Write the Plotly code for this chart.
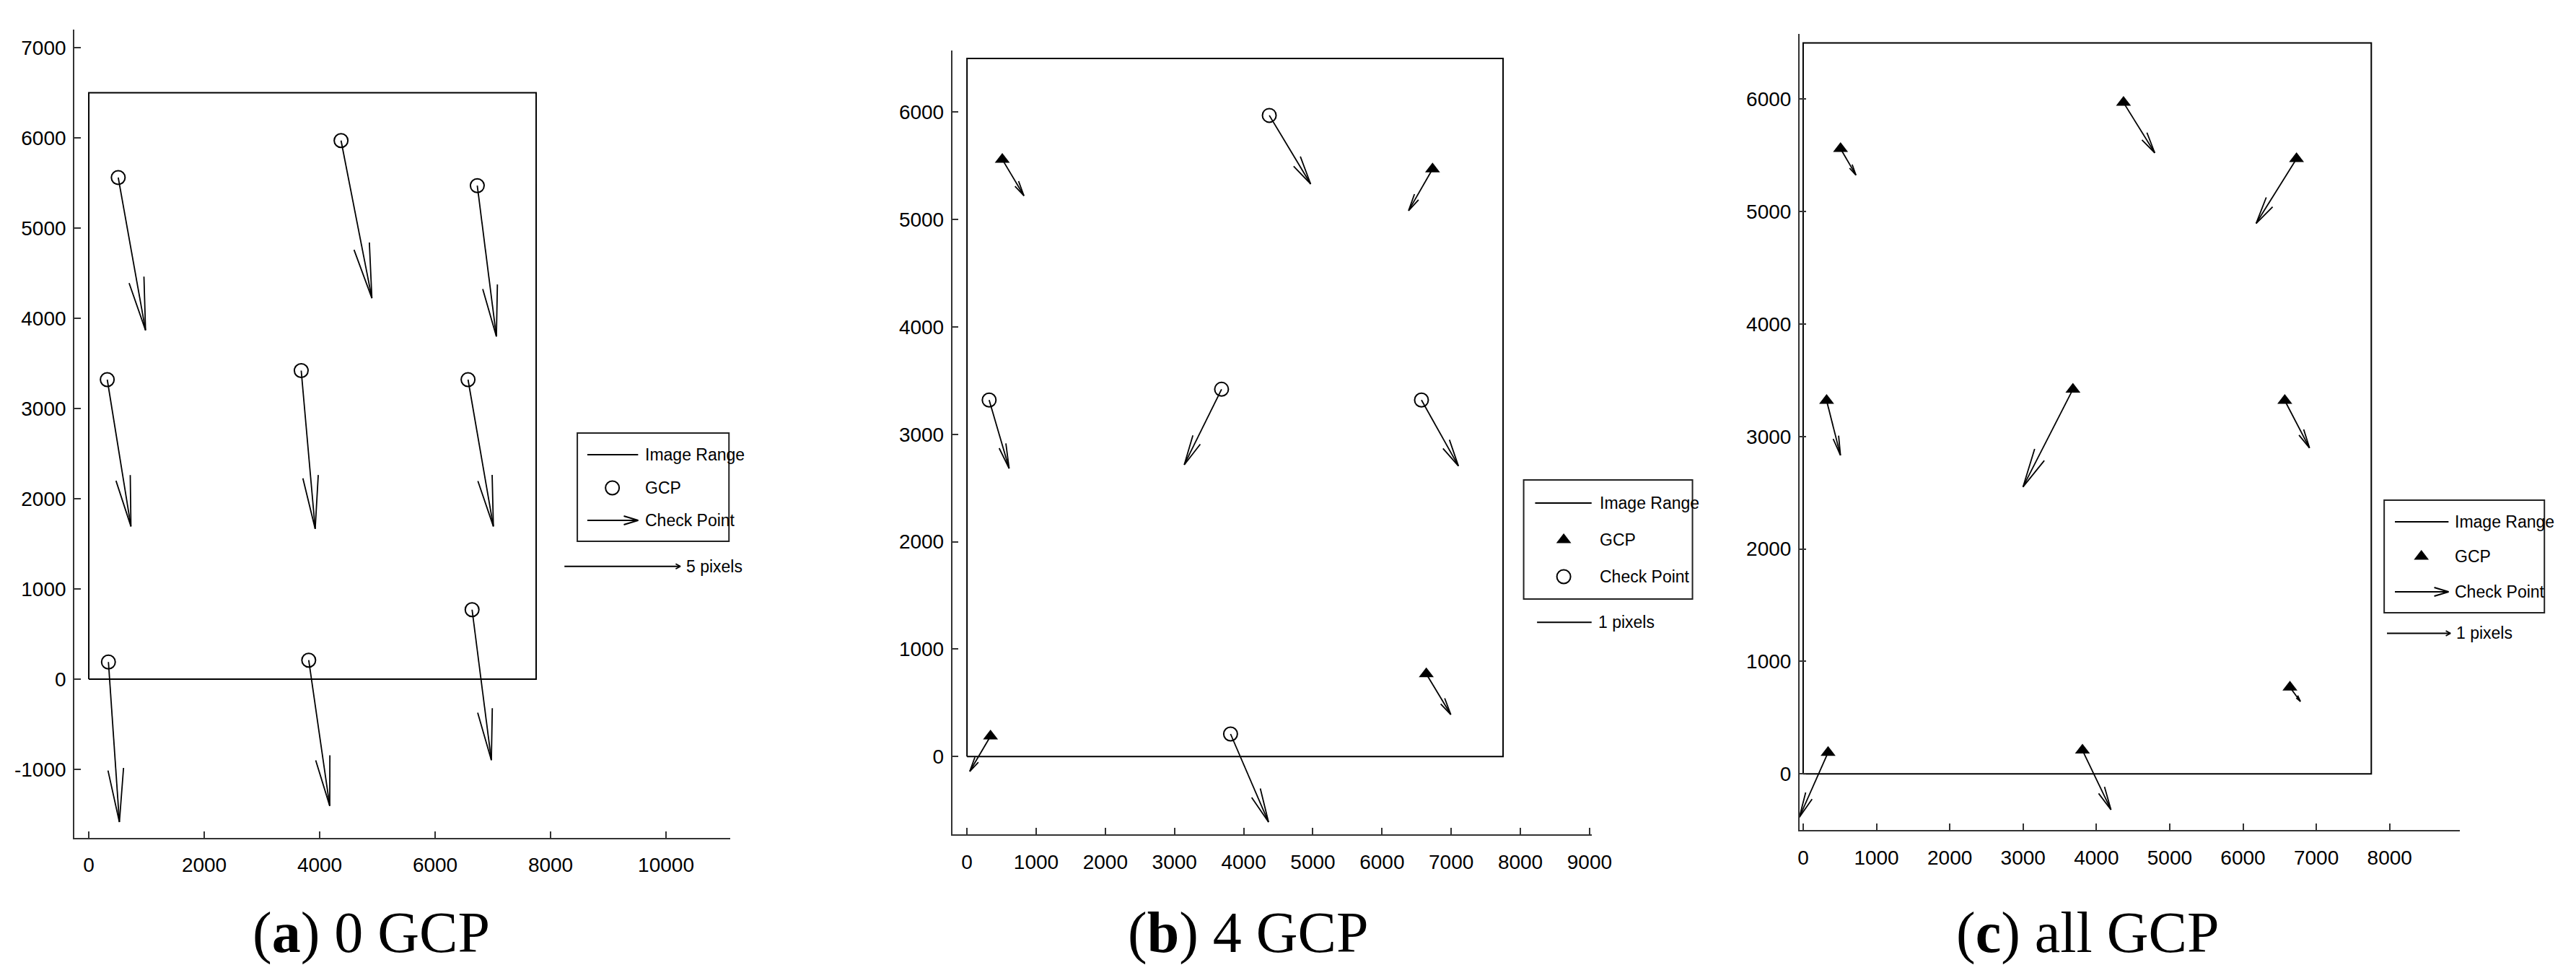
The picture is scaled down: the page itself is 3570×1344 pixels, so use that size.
import plotly.graph_objects as go

W, H = 3570, 1344

# ---------------- data ----------------
# point positions (image pixel coordinates), shared by all three panels
pt_x = [510, 4370, 6730, 320, 3680, 6570, 340, 3810, 6640]
pt_y = [5560, 5970, 5470, 3320, 3420, 3320, 190, 210, 770]

# residual vectors as drawn on the plots (plot units)
a_du = [473, 534, 331, 410, 242, 439, 190, 364, 334]
a_dv = [-1693, -1747, -1672, -1627, -1754, -1627, -1774, -1615, -1668]
b_du = [313, 598, -346, 289, -539, 534, -300, 549, 354]
b_dv = [-338, -639, -387, -637, -703, -614, -328, -820, -379]
c_du = [210, 426, -551, 189, -681, 337, -391, 389, 143]
c_dv = [-235, -447, -575, -487, -868, -421, -575, -529, -126]

# which points are GCPs in panel (b)
b_is_gcp = [True, False, True, False, False, False, True, False, True]

# image range rectangle
img_w, img_h = 7750, 6500

# reference (scale) vectors: start x, end x, y, label
ref_a = (8240, 10248, 1250, "5 pixels")
ref_b = (8241, 9040, 1250, "1 pixels")
ref_c = (7964, 8830, 1250, "1 pixels")

# tick values
a_xticks = [0, 2000, 4000, 6000, 8000, 10000]
a_yticks = [-1000, 0, 1000, 2000, 3000, 4000, 5000, 6000, 7000]
b_xticks = [0, 1000, 2000, 3000, 4000, 5000, 6000, 7000, 8000, 9000]
b_yticks = [0, 1000, 2000, 3000, 4000, 5000, 6000]
c_xticks = [0, 1000, 2000, 3000, 4000, 5000, 6000, 7000, 8000]
c_yticks = [0, 1000, 2000, 3000, 4000, 5000, 6000]

titles = ["(<b>a</b>) 0 GCP", "(<b>b</b>) 4 GCP", "(<b>c</b>) all GCP"]

# ---------------- style ----------------
SANS = "Liberation Sans Narrow, Arial Narrow, Liberation Sans, Arial, sans-serif"
SERIF = "Liberation Serif, Times New Roman, serif"
TICKFONT = dict(family=SANS, size=28, color="black")
LEGFONT = dict(family=SANS, size=23, color="black")
AXC = "#333333"


def quiver_xy(xs, ys, us, vs, alpha=0.33, beta=0.23):
    X, Y = [], []
    for x, y, u, v in zip(xs, ys, us, vs):
        tx, ty = x + u, y + v
        X += [x, tx, None]
        Y += [y, ty, None]
        X += [tx - alpha * (u + beta * v), tx, tx - alpha * (u - beta * v), None]
        Y += [ty - alpha * (v - beta * u), ty, ty - alpha * (v + beta * u), None]
    return X, Y


fig = go.Figure()

panels = [
    dict(xa="x", ya="y", dom_x=(92.7, 1010), dom_y=(32.6, 1152.5),
         xr=[-252, 11115], yr=[-1756, 7203], xt=a_xticks, yt=a_yticks,
         du=a_du, dv=a_dv, ref=ref_a, ref_head=True, px_x=80.7, px_y=125.0),
    dict(xa="x2", ya="y2", dom_x=(1320, 2214), dom_y=(61.7, 1148),
         xr=[-215, 9030], yr=[-724, 6576], xt=b_xticks, yt=b_yticks,
         du=b_du, dv=b_dv, ref=ref_b, ref_head=False, px_x=96.74, px_y=148.8),
    dict(xa="x3", ya="y3", dom_x=(2504.5, 3428), dom_y=(38.6, 1142),
         xr=[-51, 8960], yr=[-499, 6583], xt=c_xticks, yt=c_yticks,
         du=c_du, dv=c_dv, ref=ref_c, ref_head=True, px_x=102.5, px_y=155.8),
]

annotations = []
for i, p in enumerate(panels):
    xa, ya = p["xa"], p["ya"]
    # image range rectangle
    fig.add_trace(go.Scatter(x=[0, img_w, img_w, 0, 0], y=[0, 0, img_h, img_h, 0],
                             mode="lines", line=dict(color="black", width=2),
                             xaxis=xa, yaxis=ya, showlegend=False, hoverinfo="skip"))
    # residual arrows
    qx, qy = quiver_xy(pt_x, pt_y, p["du"], p["dv"])
    fig.add_trace(go.Scatter(x=qx, y=qy, mode="lines",
                             line=dict(color="black", width=1.8),
                             xaxis=xa, yaxis=ya, showlegend=False, hoverinfo="skip"))
    # markers
    if i == 0:
        cx, cy = pt_x, pt_y
        tx, ty = [], []
    elif i == 1:
        cx = [x for x, g in zip(pt_x, b_is_gcp) if not g]
        cy = [y for y, g in zip(pt_y, b_is_gcp) if not g]
        tx = [x for x, g in zip(pt_x, b_is_gcp) if g]
        ty = [y for y, g in zip(pt_y, b_is_gcp) if g]
    else:
        cx, cy = [], []
        tx, ty = pt_x, pt_y
    if cx:
        fig.add_trace(go.Scatter(x=cx, y=cy, mode="markers",
                                 marker=dict(symbol="circle-open", size=19,
                                             color="black", line=dict(width=2, color="black")),
                                 xaxis=xa, yaxis=ya, showlegend=False))
    if tx:
        fig.add_trace(go.Scatter(x=tx, y=ty, mode="markers",
                                 marker=dict(symbol="triangle-up", size=18, color="black"),
                                 xaxis=xa, yaxis=ya, showlegend=False))
    # reference vector
    x0r, x1r, yr_, lab = p["ref"]
    rx, ry = [x0r, x1r, None], [yr_, yr_, None]
    if p["ref_head"]:
        hx = 6.5 * 1000 / p["px_x"]
        hy = 3.5 * 1000 / p["px_y"]
        rx += [x1r - hx, x1r, x1r - hx, None]
        ry += [yr_ + hy, yr_, yr_ - hy, None]
    fig.add_trace(go.Scatter(x=rx, y=ry, mode="lines",
                             line=dict(color="black", width=1.8),
                             xaxis=xa, yaxis=ya, showlegend=False, hoverinfo="skip"))
    # label: keep its anchor inside the visible range, shift in pixels
    lab_x = min(x1r, p["xr"][1] - 10)
    lab_shift = 6 + (x1r - lab_x) * p["px_x"] / 1000
    annotations.append(dict(x=lab_x, y=yr_, xref=xa, yref=ya, text=lab,
                            showarrow=False, xanchor="left", yanchor="middle",
                            xshift=lab_shift, font=LEGFONT))
    # title
    annotations.append(dict(x=[508, 1734, 2907][i] / W, y=1 - 1284 / H, xref="paper", yref="paper",
                            text=titles[i], showarrow=False, xanchor="center", yanchor="middle",
                            font=dict(family=SERIF, size=80, color="black")))

    sfx = "" if i == 0 else str(i + 1)
    common = dict(showgrid=False, zeroline=False, showline=True, linecolor=AXC,
                  ticks="inside", ticklen=9, tickwidth=1.5, tickcolor=AXC,
                  tickfont=TICKFONT, tickmode="array")
    fig.layout["xaxis" + sfx] = dict(
        domain=[p["dom_x"][0] / W, p["dom_x"][1] / W], range=p["xr"],
        tickvals=p["xt"], ticktext=[str(v) for v in p["xt"]],
        anchor="y" + sfx, linewidth=2, ticklabelstandoff=12, **common)
    fig.layout["yaxis" + sfx] = dict(
        domain=[1 - p["dom_y"][1] / H, 1 - p["dom_y"][0] / H], range=p["yr"],
        tickvals=p["yt"], ticktext=[str(v) for v in p["yt"]],
        anchor="x" + sfx, linewidth=1.5, ticklabelstandoff=4, **common)

# ---------------- legends (drawn in a full-figure pixel overlay) ----------------
fig.layout["xaxis4"] = dict(domain=[0, 1], range=[0, W], visible=False, anchor="y4", fixedrange=True)
fig.layout["yaxis4"] = dict(domain=[0, 1], range=[H, 0], visible=False, anchor="x4", fixedrange=True)

legends = [
    dict(box=(796, 1008, 592, 742), rows=(622, 668, 713), gx=(810, 881), mx=845, tx=889,
         entries=["line", "circle", "arrow"]),
    dict(box=(2119, 2355, 657, 822), rows=(689, 740, 791), gx=(2135, 2214), mx=2175, tx=2223,
         entries=["line", "triangle", "circle"]),
    dict(box=(3322, 3546, 685, 841), rows=(715, 763, 812), gx=(3337, 3412), mx=3374, tx=3419,
         entries=["line", "triangle", "arrow"]),
]
labels = ["Image Range", "GCP", "Check Point"]
shapes = []
for lg in legends:
    x0, x1, y0, y1 = lg["box"]
    shapes.append(dict(type="rect", xref="x4", yref="y4", x0=x0, x1=x1, y0=y0, y1=y1,
                       line=dict(color="#222", width=2), fillcolor="white", layer="below"))
    for kind, ry, lab in zip(lg["entries"], lg["rows"], labels):
        if kind in ("line", "arrow"):
            gx0, gx1 = lg["gx"]
            shapes.append(dict(type="line", xref="x4", yref="y4", x0=gx0, x1=gx1, y0=ry, y1=ry,
                               line=dict(color="black", width=2)))
            if kind == "arrow":
                for dy in (-6, 6):
                    shapes.append(dict(type="line", xref="x4", yref="y4", x0=gx1 - 20, x1=gx1,
                                       y0=ry + dy, y1=ry, line=dict(color="black", width=2)))
        elif kind == "circle":
            fig.add_trace(go.Scatter(x=[lg["mx"]], y=[ry], mode="markers", xaxis="x4", yaxis="y4",
                                     marker=dict(symbol="circle-open", size=19, color="black",
                                                 line=dict(width=2, color="black")),
                                     showlegend=False, hoverinfo="skip"))
        else:
            fig.add_trace(go.Scatter(x=[lg["mx"]], y=[ry], mode="markers", xaxis="x4", yaxis="y4",
                                     marker=dict(symbol="triangle-up", size=18, color="black"),
                                     showlegend=False, hoverinfo="skip"))
        annotations.append(dict(x=lg["tx"], y=ry, xref="x4", yref="y4", text=lab,
                                showarrow=False, xanchor="left", yanchor="middle", font=LEGFONT))

fig.update_layout(width=W, height=H, margin=dict(l=0, r=0, t=0, b=0),
                  paper_bgcolor="white", plot_bgcolor="rgba(0,0,0,0)",
                  showlegend=False, annotations=annotations, shapes=shapes)

fig.write_html("out.html")
